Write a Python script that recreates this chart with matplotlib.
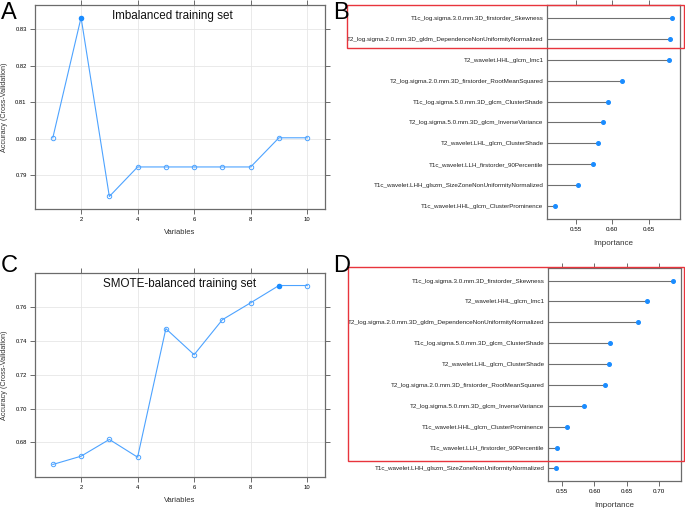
import matplotlib
matplotlib.use("Agg")
import matplotlib.pyplot as plt
import numpy as np
from matplotlib.patches import Rectangle

plt.rcParams['font.family'] = ['Liberation Sans', 'DejaVu Sans']

# --- data ---
variables = [1, 2, 3, 4, 5, 6, 7, 8, 9, 10]
acc_imbalanced = [0.8002, 0.8332, 0.7841, 0.7922, 0.7922, 0.7922, 0.7922, 0.7922, 0.8002, 0.8002]
acc_smote = [0.6670, 0.6719, 0.6818, 0.6713, 0.7473, 0.7319, 0.7526, 0.7626, 0.7728, 0.7728]

feat_b = ['T1c_log.sigma.3.0.mm.3D_firstorder_Skewness',
          'T2_log.sigma.2.0.mm.3D_gldm_DependenceNonUniformityNormalized',
          'T2_wavelet.HHL_glcm_Imc1',
          'T2_log.sigma.2.0.mm.3D_firstorder_RootMeanSquared',
          'T1c_log.sigma.5.0.mm.3D_glcm_ClusterShade',
          'T2_log.sigma.5.0.mm.3D_glcm_InverseVariance',
          'T2_wavelet.LHL_glcm_ClusterShade',
          'T1c_wavelet.LLH_firstorder_90Percentile',
          'T1c_wavelet.LHH_glszm_SizeZoneNonUniformityNormalized',
          'T1c_wavelet.HHL_glcm_ClusterProminence']
imp_b = [0.6817, 0.6785, 0.6781, 0.6138, 0.5935, 0.5876, 0.5798, 0.5738, 0.5522, 0.5215]

feat_d = ['T1c_log.sigma.3.0.mm.3D_firstorder_Skewness',
          'T2_wavelet.HHL_glcm_Imc1',
          'T2_log.sigma.2.0.mm.3D_gldm_DependenceNonUniformityNormalized',
          'T1c_log.sigma.5.0.mm.3D_glcm_ClusterShade',
          'T2_wavelet.LHL_glcm_ClusterShade',
          'T2_log.sigma.2.0.mm.3D_firstorder_RootMeanSquared',
          'T2_log.sigma.5.0.mm.3D_glcm_InverseVariance',
          'T1c_wavelet.HHL_glcm_ClusterProminence',
          'T1c_wavelet.LLH_firstorder_90Percentile',
          'T1c_wavelet.LHH_glszm_SizeZoneNonUniformityNormalized']
imp_d = [0.7213, 0.6818, 0.6673, 0.6241, 0.6221, 0.6164, 0.5836, 0.5567, 0.5416, 0.5407]

W, H = 685, 508
fig = plt.figure(figsize=(W / 100, H / 100), dpi=100)

FRAME = '#6b6b6b'
BLUE = '#4da3ff'
DOT = '#1a8cff'


def px_axes(x0, y0, x1, y1):
    return fig.add_axes([x0 / W, 1 - y1 / H, (x1 - x0) / W, (y1 - y0) / H])


def pad(vals):
    lo, hi = min(vals), max(vals)
    r = (hi - lo) * 0.07
    return lo - r, hi + r


def style_frame(ax):
    for s in ax.spines.values():
        s.set_color(FRAME)
        s.set_linewidth(0.9)


def line_panel(ax, y, title, yticks, tx):
    style_frame(ax)
    ax.plot(variables, y, color=BLUE, lw=0.8, marker='o', ms=3.2,
            mfc='none', mec=BLUE, mew=0.7, zorder=3)
    best = int(np.argmax(y))
    ax.plot(variables[best], y[best], 'o', color=DOT, ms=2.8, zorder=4)
    ax.set_xlim(pad(variables))
    ax.set_ylim(pad(y))
    ax.set_xticks([2, 4, 6, 8, 10])
    ax.set_yticks(yticks)
    ax.set_yticklabels(['%.2f' % v for v in yticks])
    ax.grid(True, color='#e6e6e6', lw=0.6)
    ax.set_axisbelow(True)
    ax.tick_params(axis='both', direction='out', length=3.5, width=0.7,
                   color=FRAME, labelsize=4.2, pad=2.5,
                   top=True, right=True, labeltop=False, labelright=False)
    ax.set_xlabel('Variables', fontsize=5.5, color='#333333')
    ax.set_ylabel('Accuracy (Cross-Validation)', fontsize=5.2, color='#333333')
    ax.xaxis.set_label_coords(0.5, -0.10)
    ax.yaxis.set_label_coords(-0.093, 0.5)
    ax.text(tx, 0.945, title, transform=ax.transAxes, ha='center', va='center',
            fontsize=8.4, color='#111111')


def dot_panel(ax, feats, imp, xticks):
    style_frame(ax)
    n = len(feats)
    pos = np.arange(n, 0, -1)
    lo, hi = pad(imp)
    ax.hlines(pos, lo, imp, color='#707070', lw=0.8)
    ax.plot(imp, pos, 'o', color=DOT, ms=2.6, zorder=3)
    ax.set_xlim(lo, hi)
    ax.set_ylim(0.4, n + 0.6)
    ax.set_yticks(pos)
    ax.set_yticklabels(feats)
    ax.set_xticks(xticks)
    ax.set_xticklabels(['%.2f' % v for v in xticks])
    ax.tick_params(axis='x', direction='out', length=3.5, width=0.7,
                   color=FRAME, labelsize=4.5, pad=2.5, top=True)
    ax.tick_params(axis='y', length=0, labelsize=4.5, pad=2.5, labelcolor='#222222')
    ax.set_xlabel('Importance', fontsize=5.8, color='#333333')
    ax.xaxis.set_label_coords(0.5, -0.10)


# A
axA = px_axes(35, 5, 325, 209)
line_panel(axA, acc_imbalanced, 'Imbalanced training set',
           [0.79, 0.80, 0.81, 0.82, 0.83], 0.472)
# C
axC = px_axes(35, 273, 325, 477)
line_panel(axC, acc_smote, 'SMOTE-balanced training set',
           [0.68, 0.70, 0.72, 0.74, 0.76], 0.497)
# B
axB = px_axes(547, 5, 680, 219)
dot_panel(axB, feat_b, imp_b, [0.55, 0.60, 0.65])
# D
axD = px_axes(548, 268, 681, 481)
dot_panel(axD, feat_d, imp_d, [0.55, 0.60, 0.65, 0.70])

# red highlight boxes
for (x0, y0, x1, y1) in [(347, 5, 684, 47.5), (348, 267, 683.5, 461)]:
    fig.patches.append(Rectangle((x0 / W, 1 - y1 / H), (x1 - x0) / W, (y1 - y0) / H,
                                 transform=fig.transFigure, fill=False,
                                 edgecolor='#e8343c', lw=1.0))

# panel letters
for letter, x, y in [('A', 1, 2), ('B', 333, 2), ('C', 1, 255), ('D', 333, 255)]:
    fig.text(x / W, 1 - y / H, letter, ha='left', va='top', fontsize=17, color='black')

fig.savefig('out.png', dpi=100)
